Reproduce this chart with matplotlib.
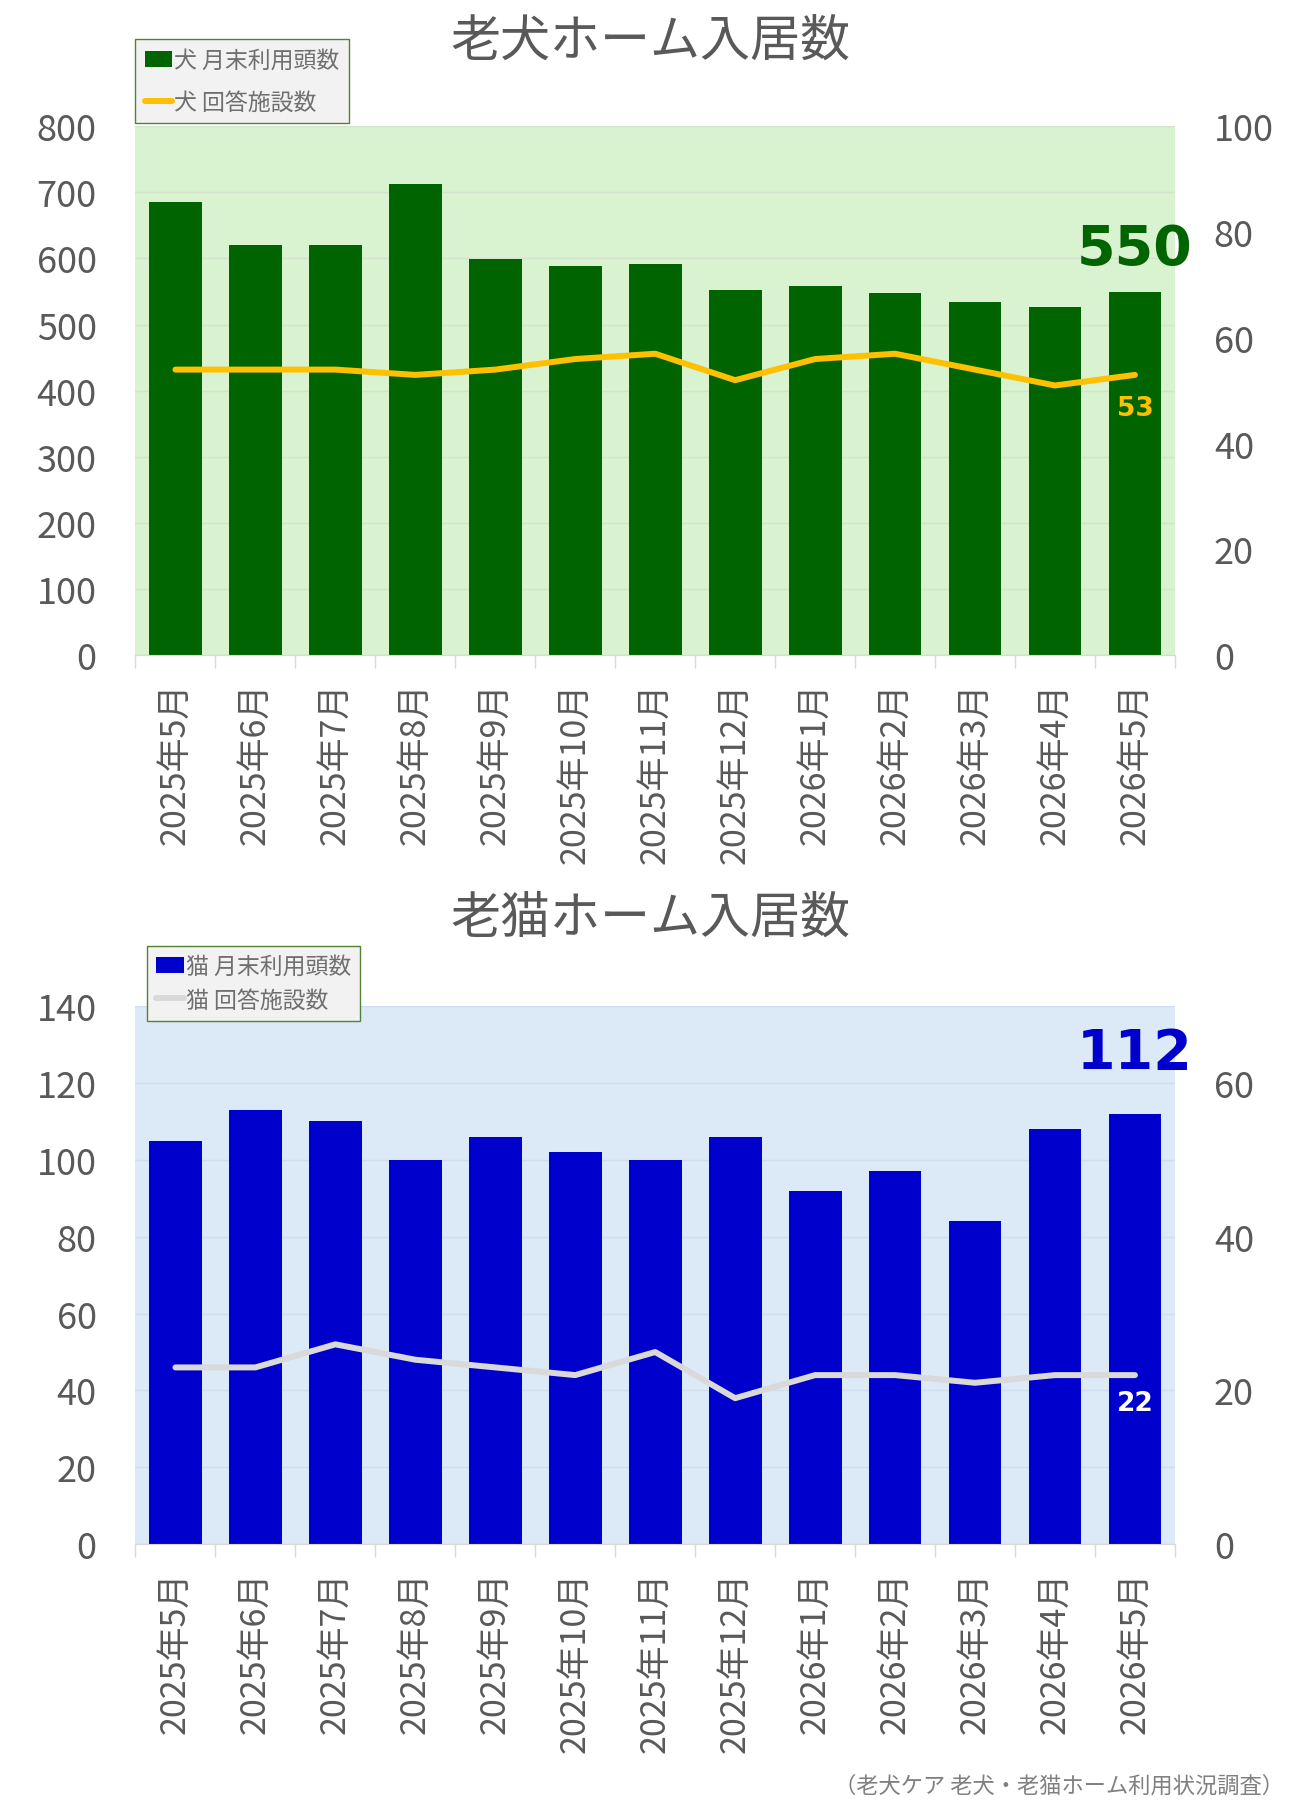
import numpy as np
import matplotlib
matplotlib.use('Agg')
import matplotlib.pyplot as plt

plt.rcParams['font.family'] = ['Noto Sans CJK JP', 'DejaVu Sans']

# Data
months = ['2025年5月', '2025年6月', '2025年7月', '2025年8月', '2025年9月',
          '2025年10月', '2025年11月', '2025年12月', '2026年1月', '2026年2月',
          '2026年3月', '2026年4月', '2026年5月']
dog_heads = [685, 620, 620, 713, 599, 588, 592, 552, 559, 548, 534, 527, 550]
dog_facilities = [54, 54, 54, 53, 54, 56, 57, 52, 56, 57, 54, 51, 53]
cat_heads = [105, 113, 110, 100, 106, 102, 100, 106, 92, 97, 84, 108, 112]
cat_facilities = [23, 23, 26, 24, 23, 22, 25, 19, 22, 22, 21, 22, 22]

TICK_COLOR = '#595959'


def draw_panel(fig, rect, title, title_y, heads, facilities, bar_color, bg_color,
               grid_color, line_color, left_max, left_step, right_max, right_ticks,
               labels, legend_anchor, leg_spacing, big_color, big_off,
               small_color, small_off):
    ax = fig.add_axes(rect)
    ax2 = ax.twinx()
    x = np.arange(len(heads))

    ax.set_facecolor(bg_color)
    ax.set_axisbelow(True)
    ax.yaxis.grid(True, color=grid_color, linewidth=1, alpha=0.6)
    bars = ax.bar(x, heads, width=0.66, color=bar_color, label=labels[0], zorder=2)
    ax.set_xlim(-0.5, len(heads) - 0.5)
    ax.set_ylim(0, left_max)
    ax.set_yticks(np.arange(0, left_max + 1, left_step))

    line, = ax2.plot(x, facilities, color=line_color, linewidth=4.3,
                     solid_capstyle='round', label=labels[1])
    ax2.set_ylim(0, right_max)
    ax2.set_yticks(right_ticks)

    for a in (ax, ax2):
        for s in a.spines.values():
            s.set_visible(False)
    ax.spines['bottom'].set_visible(True)
    ax.spines['bottom'].set_color('#d9d9d9')

    ax.set_xticks(x)
    ax.set_xticklabels(months, rotation=90, fontsize=24.5, color=TICK_COLOR)
    ax.set_xticks(np.arange(-0.5, len(heads), 1), minor=True)
    ax.tick_params(axis='x', which='major', length=0, pad=19)
    ax.tick_params(axis='x', which='minor', length=9, color='#d9d9d9', width=1)
    ax.tick_params(axis='y', length=0, pad=28, labelsize=26, labelcolor=TICK_COLOR)
    ax2.tick_params(axis='y', length=0, pad=28, labelsize=26, labelcolor=TICK_COLOR)

    fig.text(0.5, title_y, title, ha='center', va='center', fontsize=36,
             color='#595959')

    leg = fig.legend([bars, line], labels, loc='upper left',
                     bbox_to_anchor=legend_anchor, fontsize=16.5,
                     facecolor='#f2f2f2', edgecolor='#548235', framealpha=1,
                     fancybox=False, handlelength=1.2, handletextpad=0.1,
                     borderpad=0.4, labelspacing=leg_spacing,
                     labelcolor='#6f6f6f', borderaxespad=0)
    leg.get_frame().set_linewidth(1)

    last = len(heads) - 1
    ax.annotate(str(heads[-1]), xy=(last, heads[-1]), xytext=(0, big_off),
                textcoords='offset points', ha='center', va='center',
                fontsize=40, fontweight='bold', color=big_color,
                family='DejaVu Sans', annotation_clip=False)
    ax2.annotate(str(facilities[-1]), xy=(last, facilities[-1]),
                 xytext=(0, small_off), textcoords='offset points',
                 ha='center', va='center', fontsize=19, fontweight='bold',
                 color=small_color, family='DejaVu Sans')
    return ax, ax2


fig = plt.figure(figsize=(13, 18.15), dpi=100)

draw_panel(fig, [0.1042, 0.6384, 0.7996, 0.2915], '老犬ホーム入居数', 0.977,
           dog_heads, dog_facilities, '#006400', '#d9f2d0', '#cfd8cc', '#ffc000',
           800, 100, 100, [0, 20, 40, 60, 80, 100],
           ['犬 月末利用頭数', '犬 回答施設数'], (0.1042, 0.9777), 0.85,
           '#006400', 31, '#ffc000', -24)

draw_panel(fig, [0.1042, 0.1486, 0.7996, 0.2966], '老猫ホーム入居数', 0.494,
           cat_heads, cat_facilities, '#0000cc', '#dce9f6', '#c9d6e6', '#d9d9d9',
           140, 20, 70, [0, 20, 40, 60],
           ['猫 月末利用頭数', '猫 回答施設数'], (0.1131, 0.4783), 0.45,
           '#0000cc', 44, '#ffffff', -20)

fig.text(0.988, 0.016, '（老犬ケア 老犬・老猫ホーム利用状況調査）', ha='right',
         va='center', fontsize=16, color='#808080')

fig.savefig('out.png', dpi=100)
